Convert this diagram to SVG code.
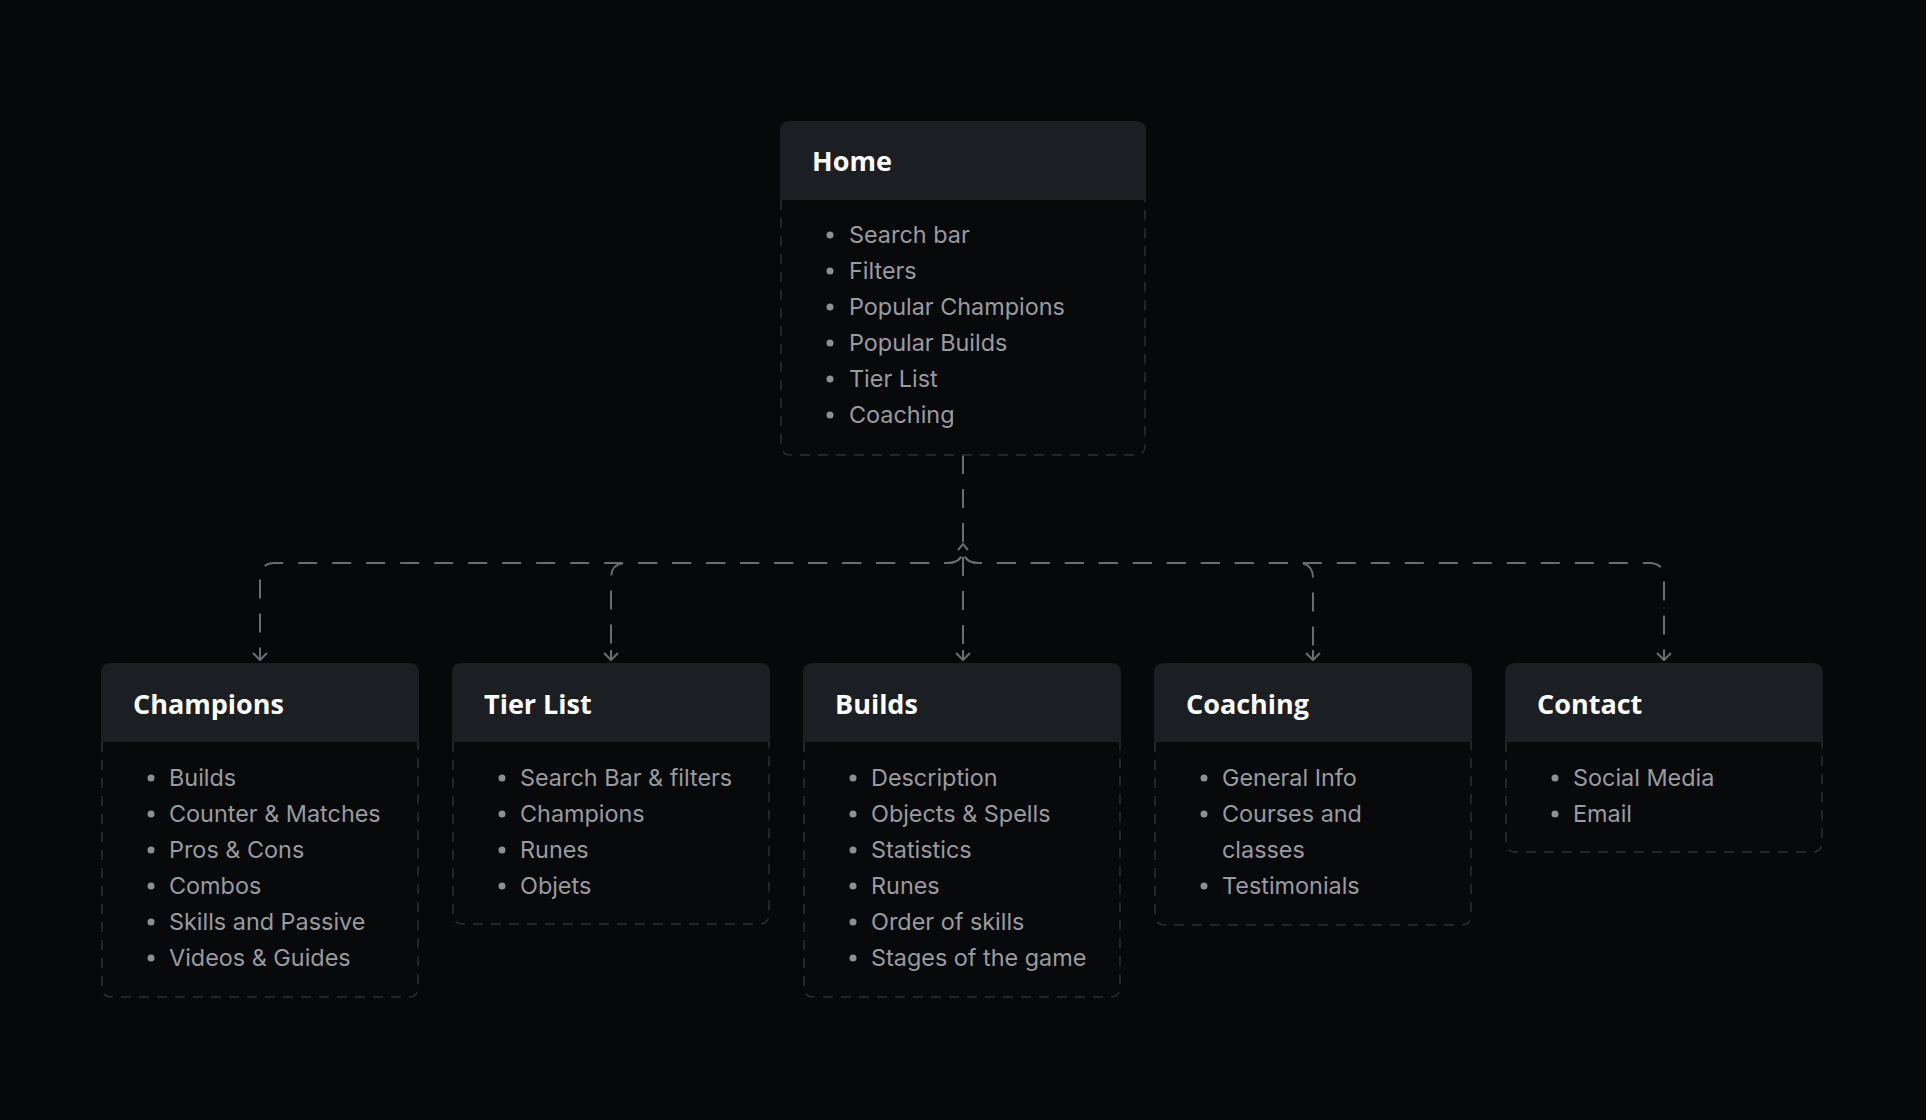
<svg xmlns="http://www.w3.org/2000/svg" width="1926" height="1120" viewBox="0 0 1926 1120">
<style>
.bg{fill:#07080a}
.box{fill:#08090b;stroke:#2c2f34;stroke-width:1.5;stroke-dasharray:10 8}
.hdr{fill:#1b1e22}
.title{font-family:"Open Sans","Noto Sans",sans-serif;font-weight:700;font-size:27px;fill:#ffffff}
.item{font-family:Inter,"Liberation Sans",sans-serif;font-size:23.4px;fill:#9a9b9e}
.dot{fill:#8e8f92}
.edge{fill:none;stroke:#6a6c70;stroke-width:2;stroke-dasharray:19 15}
</style>
<defs>
<marker id="arr" viewBox="-12 -9 14 18" markerWidth="14" markerHeight="18" refX="0" refY="0" orient="auto" markerUnits="userSpaceOnUse">
<path d="M-7,-7 L0,0 L-7,7 M-10,0 L0,0" fill="none" stroke="#6a6c70" stroke-width="2"/>
</marker>
</defs>
<rect class="bg" x="0" y="0" width="1926" height="1120"/>

<g id="connectors">
<path class="edge" marker-end="url(#arr)" d="M963,455 V548 Q963,563 948,563 H275 Q260,563 260,578 V660"/>
<path class="edge" marker-end="url(#arr)" d="M963,455 V548 Q963,563 948,563 H626 Q611,563 611,578 V660"/>
<path class="edge" marker-end="url(#arr)" d="M963,455 V660"/>
<path class="edge" marker-end="url(#arr)" d="M963,455 V548 Q963,563 978,563 H1298 Q1313,563 1313,578 V660"/>
<path class="edge" marker-end="url(#arr)" d="M963,455 V548 Q963,563 978,563 H1649 Q1664,563 1664,578 V660"/>
<path d="M958,550 L963,544 L968,550" fill="none" stroke="#6a6c70" stroke-width="2"/>
</g>

<g id="home">
<path class="box" d="M781,200 V445 Q781,455 791,455 H1135 Q1145,455 1145,445 V200"/>
<path class="hdr" d="M780,200 V131 Q780,121 790,121 H1136 Q1146,121 1146,131 V200 Z"/>
<text class="title" x="812" y="171">Home</text>
<circle class="dot" cx="830" cy="235" r="3.5"/><text class="item" x="849" y="243">Search bar</text>
<circle class="dot" cx="830" cy="271" r="3.5"/><text class="item" x="849" y="279">Filters</text>
<circle class="dot" cx="830" cy="307" r="3.5"/><text class="item" x="849" y="315">Popular Champions</text>
<circle class="dot" cx="830" cy="343" r="3.5"/><text class="item" x="849" y="351">Popular Builds</text>
<circle class="dot" cx="830" cy="379" r="3.5"/><text class="item" x="849" y="387">Tier List</text>
<circle class="dot" cx="830" cy="415" r="3.5"/><text class="item" x="849" y="423">Coaching</text>
</g>

<g id="champions">
<path class="box" d="M102,742 V987 Q102,997 112,997 H408 Q418,997 418,987 V742"/>
<path class="hdr" d="M101,742 V673 Q101,663 111,663 H409 Q419,663 419,673 V742 Z"/>
<text class="title" x="133" y="714">Champions</text>
<circle class="dot" cx="151" cy="778" r="3.5"/><text class="item" x="169" y="786">Builds</text>
<circle class="dot" cx="151" cy="814" r="3.5"/><text class="item" x="169" y="822">Counter &amp; Matches</text>
<circle class="dot" cx="151" cy="850" r="3.5"/><text class="item" x="169" y="858">Pros &amp; Cons</text>
<circle class="dot" cx="151" cy="886" r="3.5"/><text class="item" x="169" y="894">Combos</text>
<circle class="dot" cx="151" cy="922" r="3.5"/><text class="item" x="169" y="930">Skills and Passive</text>
<circle class="dot" cx="151" cy="958" r="3.5"/><text class="item" x="169" y="966">Videos &amp; Guides</text>
</g>

<g id="tierlist">
<path class="box" d="M453,742 V914 Q453,924 463,924 H759 Q769,924 769,914 V742"/>
<path class="hdr" d="M452,742 V673 Q452,663 462,663 H760 Q770,663 770,673 V742 Z"/>
<text class="title" x="484" y="714">Tier List</text>
<circle class="dot" cx="502" cy="778" r="3.5"/><text class="item" x="520" y="786">Search Bar &amp; filters</text>
<circle class="dot" cx="502" cy="814" r="3.5"/><text class="item" x="520" y="822">Champions</text>
<circle class="dot" cx="502" cy="850" r="3.5"/><text class="item" x="520" y="858">Runes</text>
<circle class="dot" cx="502" cy="886" r="3.5"/><text class="item" x="520" y="894">Objets</text>
</g>

<g id="builds">
<path class="box" d="M804,742 V987 Q804,997 814,997 H1110 Q1120,997 1120,987 V742"/>
<path class="hdr" d="M803,742 V673 Q803,663 813,663 H1111 Q1121,663 1121,673 V742 Z"/>
<text class="title" x="835" y="714">Builds</text>
<circle class="dot" cx="853" cy="778" r="3.5"/><text class="item" x="871" y="786">Description</text>
<circle class="dot" cx="853" cy="814" r="3.5"/><text class="item" x="871" y="822">Objects &amp; Spells</text>
<circle class="dot" cx="853" cy="850" r="3.5"/><text class="item" x="871" y="858">Statistics</text>
<circle class="dot" cx="853" cy="886" r="3.5"/><text class="item" x="871" y="894">Runes</text>
<circle class="dot" cx="853" cy="922" r="3.5"/><text class="item" x="871" y="930">Order of skills</text>
<circle class="dot" cx="853" cy="958" r="3.5"/><text class="item" x="871" y="966">Stages of the game</text>
</g>

<g id="coaching">
<path class="box" d="M1155,742 V915 Q1155,925 1165,925 H1461 Q1471,925 1471,915 V742"/>
<path class="hdr" d="M1154,742 V673 Q1154,663 1164,663 H1462 Q1472,663 1472,673 V742 Z"/>
<text class="title" x="1186" y="714">Coaching</text>
<circle class="dot" cx="1204" cy="778" r="3.5"/><text class="item" x="1222" y="786">General Info</text>
<circle class="dot" cx="1204" cy="814" r="3.5"/><text class="item" x="1222" y="822">Courses and</text>
<text class="item" x="1222" y="858">classes</text>
<circle class="dot" cx="1204" cy="886" r="3.5"/><text class="item" x="1222" y="894">Testimonials</text>
</g>

<g id="contact">
<path class="box" d="M1506,742 V842 Q1506,852 1516,852 H1812 Q1822,852 1822,842 V742"/>
<path class="hdr" d="M1505,742 V673 Q1505,663 1515,663 H1813 Q1823,663 1823,673 V742 Z"/>
<text class="title" x="1537" y="714">Contact</text>
<circle class="dot" cx="1555" cy="778" r="3.5"/><text class="item" x="1573" y="786">Social Media</text>
<circle class="dot" cx="1555" cy="814" r="3.5"/><text class="item" x="1573" y="822">Email</text>
</g>
</svg>
